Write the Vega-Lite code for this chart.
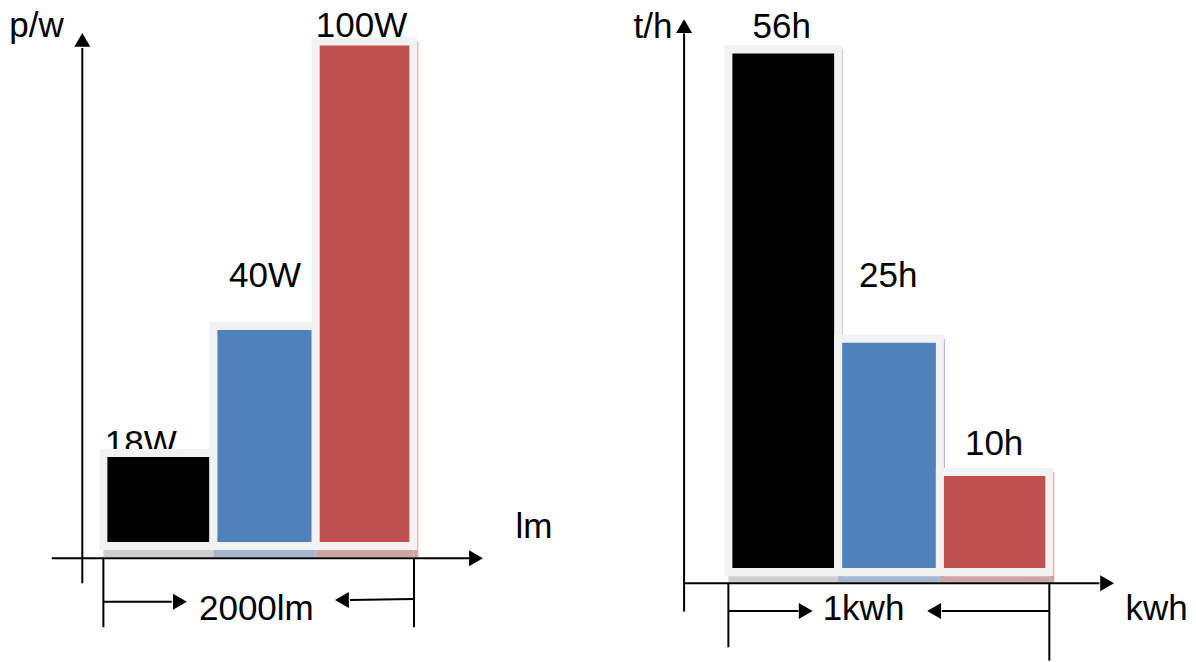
{
  "$schema": "https://vega.github.io/schema/vega-lite/v6.json",
  "padding": 0,
  "spacing": 20,
  "background": "white",
  "config": {"view": {"stroke": null}},
  "datasets": {
    "leftBars": [
      {"lamp": "18W", "x0": 0, "x1": 710, "y": 18.4},
      {"lamp": "40W", "x0": 710, "x1": 1370, "y": 43.6},
      {"lamp": "100W", "x0": 1370, "x1": 2000, "y": 100}
    ],
    "leftRules": [
      {"x": -136, "x2": -136, "y": 98.7, "y2": -7.4},
      {"x": -333, "x2": 2365, "y": -2.46, "y2": -2.46},
      {"x": 0, "x2": 0, "y": -2.46, "y2": -16.1},
      {"x": 2004, "x2": 2004, "y": -2.46, "y2": -16.1},
      {"x": 0, "x2": 441, "y": -11.06, "y2": -11.06},
      {"x": 2004, "x2": 1591, "y": -10.5, "y2": -10.7}
    ],
    "leftArrows": [
      {"x": -136, "y": 100.3, "dir": "up"},
      {"x": 2404, "y": -2.46, "dir": "right"},
      {"x": 494, "y": -11.06, "dir": "right"},
      {"x": 1539, "y": -10.7, "dir": "left"}
    ],
    "leftText": [
      {"text": "p/w", "x": -432, "y": 100.9},
      {"text": "100W", "x": 1665, "y": 100.9},
      {"text": "40W", "x": 1043, "y": 51.4},
      {"text": "18W", "x": 241, "y": 18.0},
      {"text": "lm", "x": 2778, "y": 1.5},
      {"text": "2000lm", "x": 987, "y": -14.7}
    ],
    "rightBars": [
      {"lamp": "18W", "x0": 0, "x1": 0.342, "y": 56},
      {"lamp": "40W", "x0": 0.342, "x1": 0.659, "y": 25},
      {"lamp": "100W", "x0": 0.659, "x1": 1.0, "y": 10.7}
    ],
    "rightRules": [
      {"x": -0.138, "x2": -0.138, "y": 57.7, "y2": -4.25},
      {"x": -0.138, "x2": 1.156, "y": -1.21, "y2": -1.21},
      {"x": 0, "x2": 0, "y": -1.21, "y2": -8.07},
      {"x": 1.0, "x2": 1.0, "y": -1.21, "y2": -9.5},
      {"x": 0, "x2": 0.218, "y": -4.18, "y2": -4.18},
      {"x": 1.0, "x2": 0.665, "y": -4.18, "y2": -4.18}
    ],
    "rightArrows": [
      {"x": -0.138, "y": 58.5, "dir": "up"},
      {"x": 1.18, "y": -1.21, "dir": "right"},
      {"x": 0.241, "y": -4.18, "dir": "right"},
      {"x": 0.641, "y": -4.18, "dir": "left"}
    ],
    "rightText": [
      {"text": "t/h", "x": -0.235, "y": 57.2},
      {"text": "56h", "x": 0.166, "y": 57.2},
      {"text": "25h", "x": 0.498, "y": 30.5},
      {"text": "10h", "x": 0.828, "y": 12.54},
      {"text": "kwh", "x": 1.334, "y": -5.14},
      {"text": "1kwh", "x": 0.421, "y": -5.14}
    ]
  },
  "hconcat": [
    {
      "width": 580,
      "height": 662,
      "layer": [
        {
          "data": {"name": "leftText"},
          "mark": {"type": "text", "font": "Liberation Sans", "fontSize": 35, "align": "center", "baseline": "alphabetic", "color": "#000000"},
          "encoding": {
            "x": {"field": "x", "type": "quantitative", "scale": {"domain": [-667, 3075], "nice": false, "zero": false}, "axis": null},
            "y": {"field": "y", "type": "quantitative", "scale": {"domain": [-23, 108.2], "nice": false, "zero": false}, "axis": null},
            "text": {"field": "text", "type": "nominal"}
          }
        },
        {
          "data": {"name": "leftBars"},
          "transform": [{"filter": "datum.lamp === '100W'"}],
          "mark": {"type": "rect", "x2Offset": 5, "yOffset": 0},
          "encoding": {
            "x": {"field": "x1", "type": "quantitative", "scale": {"domain": [-667, 3075], "nice": false, "zero": false}, "axis": null},
            "x2": {"field": "x1"},
            "y": {"field": "y", "type": "quantitative", "scale": {"domain": [-23, 108.2], "nice": false, "zero": false}, "axis": null},
            "y2": {"datum": -2.2},
            "fill": {"field": "lamp", "type": "nominal", "scale": {"domain": ["18W", "40W", "100W"], "range": ["#cfcfcf", "#a4b6d0", "#cfa5a5"]}, "legend": null}
          }
        },
        {
          "data": {"name": "leftBars"},
          "mark": {"type": "rect", "stroke": "#f2f2f2", "strokeWidth": 8},
          "encoding": {
            "x": {"field": "x0", "type": "quantitative", "scale": {"domain": [-667, 3075], "nice": false, "zero": false}, "axis": null},
            "x2": {"field": "x1"},
            "y": {"field": "y", "type": "quantitative", "scale": {"domain": [-23, 108.2], "nice": false, "zero": false}, "axis": null},
            "y2": {"datum": 0},
            "color": {"field": "lamp", "type": "nominal", "scale": {"domain": ["18W", "40W", "100W"], "range": ["#000000", "#4f81bd", "#c0504d"]}, "legend": null}
          }
        },
        {
          "data": {"name": "leftBars"},
          "mark": {"type": "rect"},
          "encoding": {
            "x": {"field": "x0", "type": "quantitative", "scale": {"domain": [-667, 3075], "nice": false, "zero": false}, "axis": null},
            "x2": {"field": "x1"},
            "y": {"datum": -0.8, "type": "quantitative", "scale": {"domain": [-23, 108.2], "nice": false, "zero": false}, "axis": null},
            "y2": {"datum": -2.2},
            "fill": {"field": "lamp", "type": "nominal", "legend": null}
          }
        },
        {
          "data": {"name": "leftRules"},
          "mark": {"type": "rule", "color": "#000000", "strokeWidth": 2},
          "encoding": {
            "x": {"field": "x", "type": "quantitative", "scale": {"domain": [-667, 3075], "nice": false, "zero": false}, "axis": null},
            "x2": {"field": "x2"},
            "y": {"field": "y", "type": "quantitative", "scale": {"domain": [-23, 108.2], "nice": false, "zero": false}, "axis": null},
            "y2": {"field": "y2"}
          }
        },
        {
          "data": {"name": "leftArrows"},
          "mark": {"type": "point", "filled": true, "opacity": 1, "color": "#000000", "size": 256},
          "encoding": {
            "x": {"field": "x", "type": "quantitative", "scale": {"domain": [-667, 3075], "nice": false, "zero": false}, "axis": null},
            "y": {"field": "y", "type": "quantitative", "scale": {"domain": [-23, 108.2], "nice": false, "zero": false}, "axis": null},
            "shape": {"field": "dir", "type": "nominal", "scale": {"domain": ["up", "right", "left"], "range": ["triangle-up", "triangle-right", "triangle-left"]}, "legend": null}
          }
        }
      ]
    },
    {
      "width": 596,
      "height": 662,
      "layer": [
        {
          "data": {"name": "rightText"},
          "mark": {"type": "text", "font": "Liberation Sans", "fontSize": 35, "align": "center", "baseline": "alphabetic", "color": "#000000"},
          "encoding": {
            "x": {"field": "x", "type": "quantitative", "scale": {"domain": [-0.4, 1.457], "nice": false, "zero": false}, "axis": null},
            "y": {"field": "y", "type": "quantitative", "scale": {"domain": [-9.65, 61.3], "nice": false, "zero": false}, "axis": null},
            "text": {"field": "text", "type": "nominal"}
          }
        },
        {
          "data": {"name": "rightBars"},
          "mark": {"type": "rect", "x2Offset": 5},
          "encoding": {
            "x": {"field": "x1", "type": "quantitative", "scale": {"domain": [-0.4, 1.457], "nice": false, "zero": false}, "axis": null},
            "x2": {"field": "x1"},
            "y": {"field": "y", "type": "quantitative", "scale": {"domain": [-9.65, 61.3], "nice": false, "zero": false}, "axis": null},
            "y2": {"datum": -1.1},
            "fill": {"field": "lamp", "type": "nominal", "legend": null}
          }
        },
        {
          "data": {"name": "rightBars"},
          "mark": {"type": "rect", "stroke": "#f2f2f2", "strokeWidth": 8},
          "encoding": {
            "x": {"field": "x0", "type": "quantitative", "scale": {"domain": [-0.4, 1.457], "nice": false, "zero": false}, "axis": null},
            "x2": {"field": "x1"},
            "y": {"field": "y", "type": "quantitative", "scale": {"domain": [-9.65, 61.3], "nice": false, "zero": false}, "axis": null},
            "y2": {"datum": 0},
            "color": {"field": "lamp", "type": "nominal", "legend": null}
          }
        },
        {
          "data": {"name": "rightBars"},
          "mark": {"type": "rect"},
          "encoding": {
            "x": {"field": "x0", "type": "quantitative", "scale": {"domain": [-0.4, 1.457], "nice": false, "zero": false}, "axis": null},
            "x2": {"field": "x1"},
            "y": {"datum": -0.45, "type": "quantitative", "scale": {"domain": [-9.65, 61.3], "nice": false, "zero": false}, "axis": null},
            "y2": {"datum": -1.1},
            "fill": {"field": "lamp", "type": "nominal", "legend": null}
          }
        },
        {
          "data": {"name": "rightRules"},
          "mark": {"type": "rule", "color": "#000000", "strokeWidth": 2},
          "encoding": {
            "x": {"field": "x", "type": "quantitative", "scale": {"domain": [-0.4, 1.457], "nice": false, "zero": false}, "axis": null},
            "x2": {"field": "x2"},
            "y": {"field": "y", "type": "quantitative", "scale": {"domain": [-9.65, 61.3], "nice": false, "zero": false}, "axis": null},
            "y2": {"field": "y2"}
          }
        },
        {
          "data": {"name": "rightArrows"},
          "mark": {"type": "point", "filled": true, "opacity": 1, "color": "#000000", "size": 256},
          "encoding": {
            "x": {"field": "x", "type": "quantitative", "scale": {"domain": [-0.4, 1.457], "nice": false, "zero": false}, "axis": null},
            "y": {"field": "y", "type": "quantitative", "scale": {"domain": [-9.65, 61.3], "nice": false, "zero": false}, "axis": null},
            "shape": {"field": "dir", "type": "nominal", "legend": null}
          }
        }
      ]
    }
  ]
}
